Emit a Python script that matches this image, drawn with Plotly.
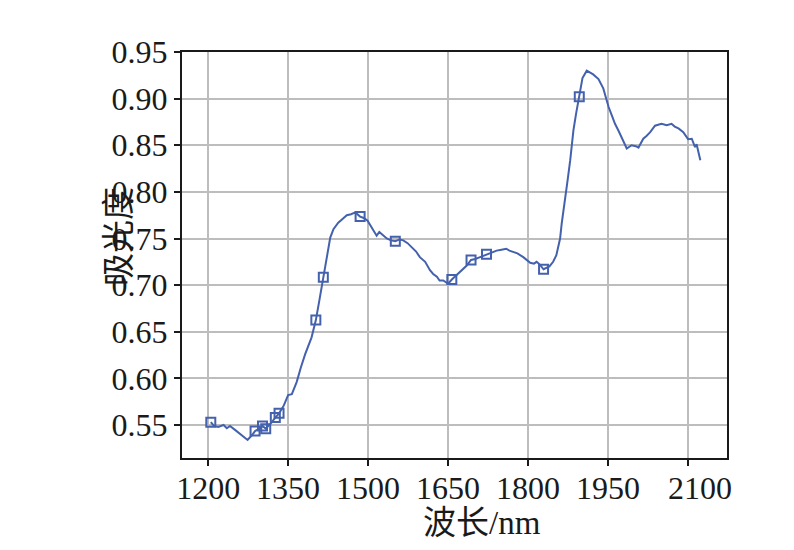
import plotly.graph_objects as go

wavelength = [1205, 1211, 1219, 1229, 1235, 1241, 1251, 1263, 1274, 1282, 1288, 1296, 1302, 1308,
              1318, 1326, 1333, 1342, 1350, 1357, 1366, 1374, 1382, 1394, 1402, 1409, 1416, 1422,
              1429, 1435, 1444, 1452, 1460, 1468, 1476, 1485, 1492, 1499, 1508, 1516, 1521, 1528,
              1535, 1543, 1551, 1559, 1566, 1574, 1582, 1590, 1597, 1607, 1616, 1622, 1629, 1634,
              1641, 1647, 1650, 1657, 1665, 1672, 1685, 1693, 1701, 1710, 1722, 1731, 1741, 1750,
              1759, 1765, 1771, 1780, 1791, 1799, 1804, 1811, 1816, 1822, 1829, 1840, 1847, 1853,
              1857, 1860, 1863, 1866, 1869, 1874, 1879, 1885, 1890, 1896, 1902, 1910, 1916, 1922,
              1932, 1941, 1946, 1951, 1957, 1963, 1970, 1976, 1985, 1994, 2002, 2007, 2012, 2016,
              2022, 2029, 2038, 2044, 2050, 2060, 2069, 2075, 2082, 2091, 2096, 2100, 2107, 2113,
              2116, 2123]
absorbance = [0.553, 0.549, 0.548, 0.550, 0.5465, 0.549, 0.5445, 0.539, 0.534, 0.539, 0.5435, 0.546,
              0.549, 0.546, 0.552, 0.558, 0.5625, 0.571, 0.582, 0.583, 0.596, 0.612, 0.626, 0.644,
              0.6625, 0.685, 0.7085, 0.730, 0.751, 0.760, 0.767, 0.771, 0.775, 0.776, 0.778, 0.7735,
              0.772, 0.769, 0.760, 0.753, 0.757, 0.753, 0.750, 0.748, 0.747, 0.749, 0.748, 0.745,
              0.741, 0.736, 0.730, 0.725, 0.716, 0.712, 0.709, 0.705, 0.705, 0.702, 0.7015, 0.706,
              0.710, 0.714, 0.721, 0.727, 0.728, 0.730, 0.733, 0.735, 0.737, 0.738, 0.739, 0.737,
              0.736, 0.734, 0.730, 0.726, 0.724, 0.723, 0.725, 0.722, 0.717, 0.720, 0.725, 0.732,
              0.741, 0.750, 0.766, 0.780, 0.791, 0.812, 0.834, 0.866, 0.884, 0.902, 0.922, 0.930,
              0.928, 0.926, 0.921, 0.911, 0.901, 0.891, 0.882, 0.873, 0.865, 0.857, 0.8465, 0.850,
              0.849, 0.8475, 0.853, 0.857, 0.860, 0.864, 0.871, 0.872, 0.873, 0.8715, 0.873, 0.870,
              0.868, 0.864, 0.859, 0.8565, 0.857, 0.848, 0.851, 0.834]

marker_wavelength = [1205, 1288, 1302, 1308, 1326, 1333, 1402, 1416, 1485, 1551, 1657, 1693, 1722, 1829, 1896]
marker_absorbance = [0.553, 0.5435, 0.549, 0.546, 0.558, 0.5625, 0.6625, 0.7085, 0.7735, 0.747, 0.706, 0.727, 0.733, 0.717, 0.902]

x_ticks = [1200, 1350, 1500, 1650, 1800, 1950, 2100]
x_ticklabels = ["1200", "1350", "1500", "1650", "1800", "1950", "\u00a0\u00a0\u00a02100"]
y_ticks = [0.55, 0.60, 0.65, 0.70, 0.75, 0.80, 0.85, 0.90, 0.95]
y_ticklabels = ["0.55", "0.60", "0.65", "0.70", "0.75", "0.80", "0.85", "0.90", "0.95"]

x_title = "波长/nm"
y_title = "吸光度"

blue = "#4461ad"
font_family = "Liberation Serif, Noto Sans CJK SC, serif"

fig = go.Figure()
fig.add_trace(go.Scatter(x=wavelength, y=absorbance, mode="lines",
                         line=dict(color=blue, width=2), showlegend=False))
fig.add_trace(go.Scatter(x=marker_wavelength, y=marker_absorbance, mode="markers",
                         marker=dict(symbol="square-open", size=9, color=blue,
                                     line=dict(width=2, color=blue)),
                         showlegend=False))

axis_common = dict(showgrid=True, gridcolor="#bdbdbd", gridwidth=2,
                   showline=True, linecolor="#1a1a1a", linewidth=2, mirror=True,
                   ticks="outside", ticklen=6, tickwidth=1.5, tickcolor="#1a1a1a",
                   zeroline=False, automargin=False, tickfont=dict(size=32))

fig.update_layout(
    width=794, height=550,
    margin=dict(l=174, r=75, t=44, b=100),
    paper_bgcolor="white", plot_bgcolor="white",
    font=dict(family=font_family, size=32, color="#1a1a1a"),
    xaxis=dict(range=[1151, 2173], tickvals=x_ticks, ticktext=x_ticklabels,
               ticklabelstandoff=-5, **axis_common),
    yaxis=dict(range=[0.5146, 0.95], tickvals=y_ticks, ticktext=y_ticklabels,
               **axis_common),
    annotations=[
        dict(text=x_title, xref="paper", yref="paper", x=0.55, y=-0.16,
             xanchor="center", yanchor="middle", showarrow=False,
             font=dict(size=33, family=font_family, color="#1a1a1a")),
        dict(text=y_title, xref="paper", yref="paper", x=-0.1156, y=0.547,
             xanchor="center", yanchor="middle", showarrow=False, textangle=-90,
             font=dict(size=33, family=font_family, color="#1a1a1a")),
    ],
)

fig.write_html("out.html")
